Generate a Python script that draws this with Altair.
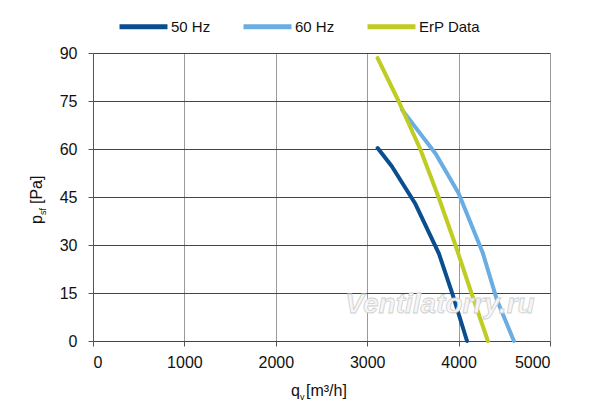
import altair as alt
import pandas as pd

FONT = "Liberation Sans"

# Data
q50 = [3114, 3269, 3528, 3786, 3934, 4092]
p50 = [60.3, 54.6, 42.8, 27.2, 14.6, 0]
q60 = [3380, 3749, 4000, 4266, 4421, 4605]
p60 = [72.3, 58.5, 46.2, 27.4, 12.7, 0]
qerp = [3114, 3343, 3580, 3780, 3965, 4140, 4321]
perp = [88.4, 75, 60, 45, 30, 15, 0]

series = ["50 Hz", "60 Hz", "ErP Data"]
colors = ["#0a4e8e", "#6aade2", "#bfcc22"]

rows = []
for name, qs, ps in [("50 Hz", q50, p50), ("60 Hz", q60, p60), ("ErP Data", qerp, perp)]:
    for i, (q, p) in enumerate(zip(qs, ps)):
        rows.append({"series": name, "q": q, "p": p, "i": i})
df = pd.DataFrame(rows)

lines = alt.Chart(df).mark_line(strokeWidth=4, strokeCap="round", strokeJoin="round").encode(
    x=alt.X("q:Q", scale=alt.Scale(domain=[0, 5000], nice=False),
            axis=alt.Axis(values=[0, 1000, 2000, 3000, 4000, 5000], format="d", title=None, grid=True,
                          gridColor="#9a9a9a", gridWidth=1, domain=False,
                          tickColor="#555", tickSize=5, labelFontSize=16, labelFont=FONT,
                          labelColor="#111", labelPadding=8)),
    y=alt.Y("p:Q", scale=alt.Scale(domain=[0, 90], nice=False),
            axis=alt.Axis(values=[0, 15, 30, 45, 60, 75, 90], title=None, grid=True,
                          gridColor="#444444", gridWidth=1, domain=True, domainColor="#555",
                          tickColor="#555", tickSize=5, labelFontSize=16, labelFont=FONT,
                          labelColor="#111", labelPadding=11)),
    color=alt.Color("series:N", scale=alt.Scale(domain=series, range=colors),
                    legend=alt.Legend(orient="none", legendX=24, legendY=-53, direction="horizontal",
                                      title=None, symbolType="stroke", symbolSize=2300,
                                      symbolStrokeWidth=5, labelFontSize=15, labelFont=FONT,
                                      labelColor="#111", columnPadding=22, labelOffset=1)),
    order="i:Q",
)

wm = alt.Chart(pd.DataFrame({"t": ["Ventilatorry.ru"]})).mark_text(
    fontSize=28, fontStyle="italic", fontWeight="bold", font="Liberation Sans",
    fill="#f6f6f6", stroke="#cfcfcf", strokeWidth=0.8, align="center", baseline="alphabetic"
).encode(text="t:N", x=alt.value(347), y=alt.value(260))

tstyle = dict(font=FONT, fontSize=16, color="#111")
xt1 = alt.Chart(pd.DataFrame({"t": ["q"]})).mark_text(align="left", baseline="alphabetic", **tstyle).encode(
    text="t:N", x=alt.value(198), y=alt.value(343))
xt2 = alt.Chart(pd.DataFrame({"t": ["v"]})).mark_text(align="left", baseline="alphabetic", font=FONT, fontSize=9, color="#111").encode(
    text="t:N", x=alt.value(207), y=alt.value(347))
xt3 = alt.Chart(pd.DataFrame({"t": ["[m³/h]"]})).mark_text(align="left", baseline="alphabetic", **tstyle).encode(
    text="t:N", x=alt.value(213), y=alt.value(343))

yt1 = alt.Chart(pd.DataFrame({"t": ["p"]})).mark_text(align="left", baseline="alphabetic", angle=270, **tstyle).encode(
    text="t:N", x=alt.value(-51), y=alt.value(171))
yt2 = alt.Chart(pd.DataFrame({"t": ["sf"]})).mark_text(align="left", baseline="alphabetic", angle=270, font=FONT, fontSize=9, color="#111").encode(
    text="t:N", x=alt.value(-47), y=alt.value(162))
yt3 = alt.Chart(pd.DataFrame({"t": ["[Pa]"]})).mark_text(align="left", baseline="alphabetic", angle=270, **tstyle).encode(
    text="t:N", x=alt.value(-51), y=alt.value(151))

chart = alt.layer(lines, wm, xt1, xt2, xt3, yt1, yt2, yt3).properties(
    width=457, height=288,
    autosize=alt.AutoSizeParams(type="none"),
    padding={"left": 85, "top": 45, "right": 30, "bottom": 60},
    background="white",
).configure_view(stroke=None)

chart.save("out.html", embed_options={"renderer": "svg", "actions": False})
